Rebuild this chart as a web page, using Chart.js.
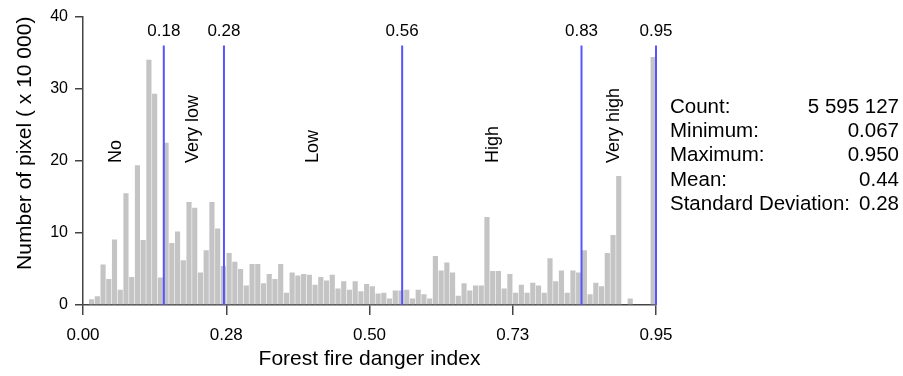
<!DOCTYPE html>
<html>
<head>
<meta charset="utf-8">
<script src="https://cdn.jsdelivr.net/npm/chart.js@4.4.1/dist/chart.umd.min.js"></script>
<style>
  html, body { margin: 0; padding: 0; background: #fff; }
  #wrap { width: 903px; height: 376px; }
</style>
</head>
<body>
<div id="wrap"><canvas id="histChart" width="903" height="376"></canvas></div>
<script>
// histogram of the index, 100 bins, counts in units of 10 000 pixels
const pixelCounts = [
  0, 0.8, 1.2, 5.6, 3.6, 9.1, 2.1, 15.5, 3.9, 19.4,
  9.0, 34.0, 29.3, 3.8, 22.5, 8.6, 10.2, 6.2, 14.3, 13.5,
  4.5, 7.6, 14.3, 10.6, 5.4, 7.2, 6.0, 5.0, 2.7, 5.7,
  5.7, 3.0, 4.3, 3.6, 5.7, 1.7, 4.5, 4.1, 4.3, 4.2,
  2.8, 3.9, 3.4, 4.2, 2.3, 3.3, 2.1, 3.3, 1.9, 2.9,
  2.6, 1.6, 1.7, 0.9, 2.0, 2.0, 2.1, 0.9, 2.1, 1.5,
  0.9, 6.8, 4.8, 5.9, 4.5, 1.3, 3.0, 2.0, 2.7, 2.7,
  12.2, 4.7, 4.7, 2.3, 4.3, 1.7, 2.8, 1.7, 3.1, 2.7,
  1.7, 6.5, 3.3, 4.8, 1.7, 4.8, 4.5, 7.6, 1.5, 3.1,
  2.6, 7.2, 9.7, 17.9, 0, 0.9, 0, 0, 0, 34.4
];

// x axis runs over the bins; printed tick labels
const xTickBins = [0, 25, 50, 75, 100];
const xTickLabels = ['0.00', '0.28', '0.50', '0.73', '0.95'];

// class breaks (blue lines)
const breakBins = [14.1, 24.6, 55.7, 87.0, 100];
const breakLabels = ['0.18', '0.28', '0.56', '0.83', '0.95'];
const breakTop = 36;

// class names written between the breaks
const classNames = ['No', 'Very low', 'Low', 'High', 'Very high'];
const classBins = [5.8, 19.2, 40.1, 71.6, 92.7];
const classStart = 19.7;

const statNames = ['Count:', 'Minimum:', 'Maximum:', 'Mean:', 'Standard Deviation:'];
const statValues = ['5 595 127', '0.067', '0.950', '0.44', '0.28'];

const FONT = "'Liberation Sans', Arial, sans-serif";
const AXIS_COLOR = '#444';

const overlay = {
  id: 'overlay',
  afterDatasetsDraw(chart) {
    const { ctx, chartArea, scales: { x, y } } = chart;
    ctx.save();

    // break lines + values above them
    ctx.strokeStyle = 'rgb(85, 85, 255)';
    ctx.lineWidth = 2;
    ctx.fillStyle = '#000';
    ctx.font = '17px ' + FONT;
    ctx.textAlign = 'center';
    ctx.textBaseline = 'middle';
    breakBins.forEach((b, i) => {
      const px = x.getPixelForValue(b);
      const top = y.getPixelForValue(breakTop);
      ctx.beginPath();
      ctx.moveTo(px, y.getPixelForValue(0));
      ctx.lineTo(px, top);
      ctx.stroke();
      ctx.fillText(breakLabels[i], px, top - 14);
    });

    // rotated class names
    ctx.font = '18px ' + FONT;
    ctx.textAlign = 'left';
    classNames.forEach((name, i) => {
      ctx.save();
      ctx.translate(x.getPixelForValue(classBins[i]), y.getPixelForValue(classStart));
      ctx.rotate(-Math.PI / 2);
      ctx.fillText(name, 0, 0);
      ctx.restore();
    });

    // summary statistics on the right
    ctx.font = '20.5px ' + FONT;
    statNames.forEach((name, i) => {
      const rowY = 107 + i * 24.3;
      ctx.textAlign = 'left';
      ctx.fillText(name, chartArea.right + 14, rowY);
      ctx.textAlign = 'right';
      ctx.fillText(statValues[i], chart.width - 4, rowY);
    });

    ctx.restore();
  }
};

const ctx = document.getElementById('histChart').getContext('2d');
new Chart(ctx, {
  type: 'bar',
  data: {
    datasets: [{
      data: pixelCounts.map((v, i) => ({ x: i + 0.5, y: v })),
      backgroundColor: 'rgb(196, 196, 196)',
      borderWidth: 0,
      barPercentage: 0.9,
      categoryPercentage: 1
    }]
  },
  options: {
    responsive: false,
    animation: false,
    layout: { padding: { top: 14, right: 247, left: 0, bottom: 0 } },
    plugins: {
      legend: { display: false },
      tooltip: { enabled: false }
    },
    scales: {
      x: {
        type: 'linear',
        min: 0,
        max: 100,
        offset: false,
        afterBuildTicks: scale => { scale.ticks = xTickBins.map(v => ({ value: v })); },
        afterFit: scale => { scale.height = 71; },
        ticks: {
          autoSkip: false,
          maxRotation: 0,
          padding: 10,
          color: '#000',
          font: { family: FONT, size: 17 },
          callback: v => xTickLabels[xTickBins.indexOf(v)]
        },
        grid: { offset: false, drawOnChartArea: false, tickLength: 10, color: AXIS_COLOR, lineWidth: 1.5 },
        border: { color: AXIS_COLOR, width: 1.5 },
        title: {
          display: true,
          text: 'Forest fire danger index',
          color: '#000',
          font: { family: FONT, size: 21 },
          padding: { top: 0, bottom: 4 }
        }
      },
      y: {
        min: 0,
        max: 40,
        afterFit: scale => { scale.width = 83; },
        ticks: {
          stepSize: 10,
          padding: 7,
          color: '#000',
          font: { family: FONT, size: 16 }
        },
        grid: { drawOnChartArea: false, tickLength: 8, color: AXIS_COLOR, lineWidth: 1.5 },
        border: { color: AXIS_COLOR, width: 1.5 },
        title: {
          display: true,
          text: 'Number of pixel ( x 10 000)',
          align: 'end',
          color: '#000',
          font: { family: FONT, size: 21 },
          padding: { top: 13, bottom: 0 }
        }
      }
    }
  },
  plugins: [overlay]
});
</script>
</body>
</html>
